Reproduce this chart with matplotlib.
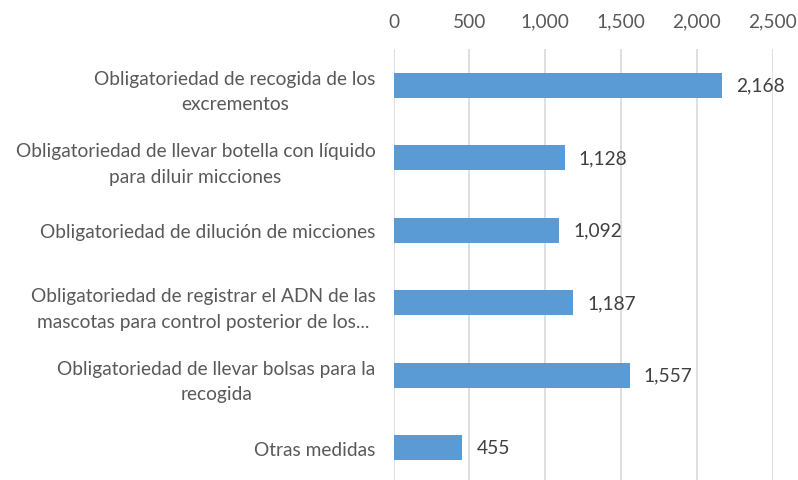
import matplotlib
matplotlib.use("Agg")
import matplotlib.pyplot as plt
import numpy as np

plt.rcParams['font.family'] = ['Lato', 'DejaVu Sans']

# data
labels = ["Obligatoriedad de recogida de los\nexcrementos",
          "Obligatoriedad de llevar botella con líquido\npara diluir micciones",
          "Obligatoriedad de dilución de micciones",
          "Obligatoriedad de registrar el ADN de las\nmascotas para control posterior de los...",
          "Obligatoriedad de llevar bolsas para la\nrecogida",
          "Otras medidas"]
values = [2168, 1128, 1092, 1187, 1557, 455]
ticks = [0, 500, 1000, 1500, 2000, 2500]

fig = plt.figure(figsize=(7.98, 4.81), dpi=100)
ax = fig.add_axes([393.5 / 798, 0, 379 / 798, 431 / 481])

y = np.arange(len(values))
ax.barh(y, values, height=0.345, color='#5b9bd5', zorder=3)
for yi, v in zip(y, values):
    ax.text(v + 95, yi, f"{v:,}", va='center', ha='left', fontsize=13.8,
            color='#404040')

ax.set_xlim(0, 2500)
ax.set_ylim(5.445, -0.5)
ax.set_xticks(ticks)
ax.set_xticklabels([f"{t:,}" for t in ticks])
ax.xaxis.tick_top()
ax.tick_params(axis='x', length=0, pad=14, labelsize=13.8, labelcolor='#595959')
ax.set_yticks(y)
ax.set_yticklabels(labels, ha='right', multialignment='center', linespacing=1.6)
ax.tick_params(axis='y', length=0, pad=13, labelsize=13.8, labelcolor='#595959')
ax.grid(axis='x', color='#d9d9d9', linewidth=1.2, zorder=0)
for s in ax.spines.values():
    s.set_visible(False)

fig.savefig('out.png', dpi=100)
